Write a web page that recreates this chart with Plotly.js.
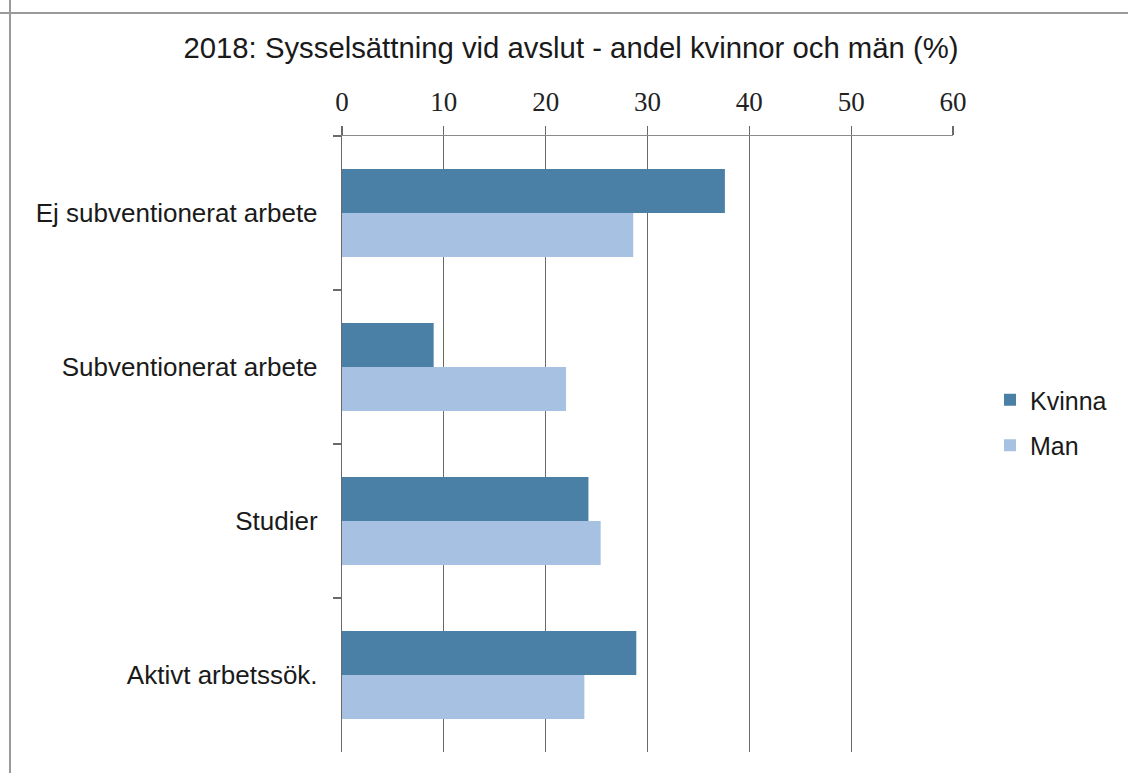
<!DOCTYPE html>
<html>
<head>
<meta charset="utf-8">
<script src="https://cdn.plot.ly/plotly-3.0.1.min.js"></script>
<style>html,body{margin:0;padding:0;background:#fff;}#chart{width:1128px;height:773px;}</style>
</head>
<body>
<div id="chart"></div>
<script>
var categories = ["Ej subventionerat arbete", "Subventionerat arbete", "Studier", "Aktivt arbetssök."];
var kvinna = [37.6, 9.0, 24.2, 28.9];
var man = [28.6, 22.0, 25.4, 23.8];
var xTicks = [0, 10, 20, 30, 40, 50, 60];

var L = 342, R = 953, T = 136, B = 752, W = 1128, H = 773;
function px(x){ return (x - L) / (R - L); }
function py(y){ return (B - y) / (B - T); }

var traces = [
  {type: 'bar', orientation: 'h', name: 'Kvinna', y: categories, x: kvinna,
   marker: {color: '#4a7fa6'}, legendgroup: 'k', hoverinfo: 'x+name'},
  {type: 'bar', orientation: 'h', name: 'Man', y: categories, x: man,
   marker: {color: '#a6c1e1'}, legendgroup: 'm', hoverinfo: 'x+name'}
];

var layout = {
  width: W, height: H,
  paper_bgcolor: '#ffffff', plot_bgcolor: '#ffffff',
  margin: {l: L, r: W - R, t: T, b: H - B, pad: 0},
  barmode: 'group', bargap: 0.43, bargroupgap: 0,
  title: {text: '2018: Sysselsättning vid avslut - andel kvinnor och män (%)',
          font: {family: 'Liberation Sans, Arial, sans-serif', size: 29.3, color: '#1a1a1a'},
          xref: 'container', yref: 'container', x: 571 / W, xanchor: 'center',
          y: 1 - 48 / H, yanchor: 'middle'},
  xaxis: {side: 'top', range: [0, 60], tickvals: xTicks, ticktext: xTicks.map(String),
          showgrid: true, gridcolor: '#6a6a6a', gridwidth: 1.2, zeroline: false,
          showline: true, linecolor: '#8a8a8a', linewidth: 1.5,
          ticks: 'outside', ticklen: 9, tickcolor: '#6a6a6a', tickwidth: 1.2,
          ticklabelstandoff: 4,
          tickfont: {family: 'Liberation Serif, DejaVu Serif, serif', size: 27, color: '#222'},
          fixedrange: true},
  yaxis: {type: 'category', autorange: 'reversed', showgrid: false, zeroline: false,
          showline: true, linecolor: '#6a6a6a', linewidth: 1.2,
          ticks: 'outside', tickson: 'boundaries', ticklen: 8, tickcolor: '#6a6a6a', tickwidth: 1.2,
          ticklabelstandoff: 18,
          tickfont: {family: 'Liberation Sans, Arial, sans-serif', size: 26, color: '#1a1a1a'},
          fixedrange: true},
  showlegend: true,
  legend: {x: px(990), xanchor: 'left', y: py(377), yanchor: 'top',
           traceorder: 'grouped', tracegroupgap: 10, itemwidth: 30,
           font: {family: 'Liberation Sans, Arial, sans-serif', size: 25, color: '#1a1a1a'},
           bgcolor: 'rgba(0,0,0,0)'},
  shapes: [
    {type: 'line', xref: 'paper', yref: 'paper', x0: px(0), x1: px(W), y0: py(13), y1: py(13),
     line: {color: '#9a9a9a', width: 2}},
    {type: 'line', xref: 'paper', yref: 'paper', x0: px(10), x1: px(10), y0: py(0), y1: py(H),
     line: {color: '#9a9a9a', width: 2}}
  ]
};

Plotly.newPlot('chart', traces, layout, {displayModeBar: false, staticPlot: true});
</script>
</body>
</html>
